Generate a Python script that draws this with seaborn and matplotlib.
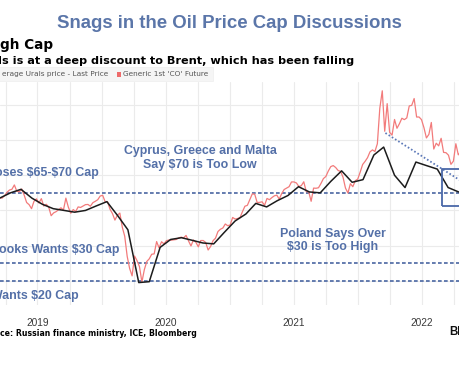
import numpy as np
import pandas as pd
import matplotlib
matplotlib.use("Agg")
import matplotlib.pyplot as plt
import matplotlib.dates as mdates
from matplotlib.patches import Rectangle
import seaborn as sns

# --- data --------------------------------------------------------------
# Brent (Generic 1st 'CO' Future), weekly Friday values
brent_2019 = [65.1, 65.7, 67.2, 67.0, 68.4,          # Mar
              70.3, 71.6, 72.0, 74.5,                # Apr
              70.9, 70.6, 72.2, 68.7, 64.5,          # May
              63.3, 61.0, 65.2, 66.6,                # Jun
              64.2, 66.7, 62.5, 63.5,                # Jul
              61.9, 57.0, 58.6, 59.3, 60.4,          # Aug
              61.5, 60.2, 67.0, 61.9,                # Sep
              58.4, 60.5, 59.4, 62.0,                # Oct
              61.7, 62.5, 63.3, 63.4, 62.4,          # Nov
              64.4, 65.2, 66.1, 68.2]                # Dec
brent_2020 = [68.6, 65.0, 64.9, 60.7, 58.2,
              54.5, 57.3, 58.5, 50.5,
              45.3, 33.9, 27.0, 22.8,
              34.1, 31.5, 28.1, 19.3,
              26.4, 31.0, 32.5, 35.1, 35.3,
              42.3, 38.7, 42.2, 41.0,
              42.8, 43.2, 43.1, 43.3, 43.5,
              44.4, 44.8, 44.4, 45.8,
              42.7, 39.8, 43.2, 41.9,
              39.3, 42.9, 42.9, 41.8, 37.5,
              39.5, 42.8, 44.2, 48.0,
              49.3, 50.0, 52.3, 51.3]
brent_2021 = [51.8, 56.0, 55.1, 55.4, 55.9,
              59.3, 62.4, 62.9, 66.1,
              69.4, 69.2, 64.5, 64.6,
              64.9, 62.9, 66.8, 66.1, 67.3,
              68.3, 68.7, 66.4, 69.6,
              71.9, 72.7, 73.5, 76.2,
              76.2, 75.6, 73.6, 74.1, 76.3,
              70.7, 70.6, 65.2, 72.7,
              72.6, 72.9, 75.3, 78.1,
              79.3, 82.4, 84.9, 85.5, 84.4,
              82.7, 82.2, 78.9, 72.7,
              69.9, 75.2, 73.5, 76.9, 77.8]
brent_2022 = [81.8, 86.1, 87.9, 90.0,
              93.3, 94.4, 93.5, 97.9,
              118.1, 128.0, 105.0, 120.7,
              104.4, 102.8, 111.7, 106.7, 109.3,
              112.4, 111.6, 112.6, 119.4,
              119.7, 123.6, 113.1, 113.1,
              111.6, 107.0, 101.2, 103.2, 110.0,
              94.9, 98.2, 96.7, 101.0,
              93.0, 92.8, 91.4, 86.2, 88.0,
              97.9, 91.6, 93.5]

# Average Urals price, monthly
urals_start = "2019-02"
urals_values = [65, 67, 70, 72, 67, 63.5, 61, 60, 59, 60, 62.5,
                65, 57, 49, 19, 19.5, 39, 43.5, 44.5, 43, 41.5, 41, 47.5,
                54, 58, 64, 62, 65.5, 68.5, 73.5, 70.5, 70, 76.5, 82.5, 76,
                77.5, 91.5, 96, 80, 73, 87.5, 85.5, 83.5, 73, 70.5]

cap_levels = [70, 30, 20]
trend_dates = ["2022-03-20", "2022-10-20"]
trend_values = [104, 77]
box_dates = ["2022-08-29", "2023-01-31"]
box_values = [62.5, 83.5]
year_labels = ["2019", "2020", "2021", "2022"]

# --- frames ------------------------------------------------------------
brent_dates = np.concatenate([
    pd.date_range("2019-03-01", "2019-12-31", freq="W-FRI"),
    pd.date_range("2020-01-01", "2020-12-31", freq="W-FRI"),
    pd.date_range("2021-01-01", "2021-12-31", freq="W-FRI"),
    pd.date_range("2022-01-01", periods=len(brent_2022), freq="W-FRI"),
])
brent = pd.DataFrame({"date": pd.to_datetime(brent_dates),
                      "price": brent_2019 + brent_2020 + brent_2021 + brent_2022})
urals = pd.DataFrame({
    "date": pd.date_range(urals_start, periods=len(urals_values), freq="MS") + pd.Timedelta(days=14),
    "price": urals_values})

# --- figure ------------------------------------------------------------
W, H = 459, 383
sns.set_style("white")
plt.rcParams["font.family"] = ["Liberation Sans", "DejaVu Sans"]

fig = plt.figure(figsize=(W / 100, H / 100), dpi=100)
fig.patch.set_facecolor("white")


def fx(px):
    return px / W


def fy(py):
    return 1 - py / H


ax_top, ax_bot = 82, 305
ax = fig.add_axes([0, fy(ax_bot), 1, (ax_bot - ax_top) / H])
ax.set_facecolor("white")

grid_c = "#ebebeb"
for q in pd.date_range("2019-01-01", "2023-01-01", freq="QS"):
    ax.axvline(q, color=grid_c, lw=0.8, zorder=0)
for v in range(20, 140, 20):
    ax.axhline(v, color=grid_c, lw=0.8, zorder=0)

blue = "#4a66a2"
for lvl in cap_levels:
    ax.axhline(lvl, color=blue, lw=1.2, dashes=(2.2, 1.4), zorder=2)

sns.lineplot(data=brent, x="date", y="price", ax=ax, color="#f27b7b", lw=0.9, zorder=3)
sns.lineplot(data=urals, x="date", y="price", ax=ax, color="#1c1c1c", lw=1.1, zorder=4)

ax.plot(pd.to_datetime(trend_dates), trend_values, color="#5b78b8", lw=1.3,
        dashes=(0.9, 1.2), zorder=5)
bx = mdates.date2num(pd.to_datetime(box_dates))
ax.add_patch(Rectangle((bx[0], box_values[0]), bx[1] - bx[0], box_values[1] - box_values[0],
                       fill=False, edgecolor="#4a68a8", lw=1.3, zorder=6))

ax.set_xlim(pd.Timestamp("2019-03-16"), pd.Timestamp("2022-10-16"))
ax.set_ylim(6.25, 133)
ax.set_xticks([])
ax.set_xticks([pd.Timestamp(f"{y}-07-02") for y in year_labels], minor=True)
ax.set_xticklabels(year_labels, minor=True, fontsize=7.3, color="#3a3a3a")
ax.tick_params(axis="x", which="minor", length=0, pad=9)
ax.set_yticks([])
ax.set_xlabel("")
ax.set_ylabel("")
for s in ax.spines.values():
    s.set_visible(False)
if ax.get_legend():
    ax.get_legend().remove()

# --- header ------------------------------------------------------------
fig.text(fx(229), fy(24), "Snags in the Oil Price Cap Discussions", ha="center", va="center",
         fontsize=13.4, fontweight="bold", color="#5b76a9")
fig.text(fx(53), fy(45), "gh Cap", ha="right", va="center", fontsize=9.8,
         fontweight="bold", color="black", family="DejaVu Sans")
fig.text(fx(354), fy(61), "ls is at a deep discount to Brent, which has been falling",
         ha="right", va="center", fontsize=8.1, fontweight="bold", color="black", family="DejaVu Sans")

fig.patches.append(Rectangle((fx(-5), fy(81)), fx(218), (81 - 67) / H, transform=fig.transFigure,
                             facecolor="#f5f5f5", edgecolor="#eeeeee", lw=0.5, zorder=0))
fig.text(fx(108), fy(74), "erage Urals price - Last Price", ha="right", va="center",
         fontsize=5.3, color="#555555", family="DejaVu Sans")
fig.patches.append(Rectangle((fx(116.5), fy(76.5)), fx(4), 4.5 / H, transform=fig.transFigure,
                             facecolor="#ee6b6b", edgecolor="none"))
fig.text(fx(123), fy(74), "Generic 1st 'CO' Future", ha="left", va="center",
         fontsize=5.3, color="#555555", family="DejaVu Sans")

# --- annotations -------------------------------------------------------
ann = dict(fontsize=8.9, fontweight="bold", color="#5470a8", va="center")
fig.text(fx(200), fy(158), "Cyprus, Greece and Malta\nSay \\$70 is Too Low", ha="center",
         multialignment="center", linespacing=1.15, **ann)
fig.text(fx(99), fy(173), "oses \\$65-\\$70 Cap", ha="right", **ann)
fig.text(fx(119), fy(250.5), "ooks Wants \\$30 Cap", ha="right", **ann)
fig.text(fx(79), fy(296), "Wants \\$20 Cap", ha="right", **ann)
fig.text(fx(333), fy(240.5), "Poland Says Over\n\\$30 is Too High", ha="center",
         multialignment="center", linespacing=1.15, **ann)

# --- footer ------------------------------------------------------------
fig.text(fx(197), fy(333), "ce: Russian finance ministry, ICE, Bloomberg", ha="right", va="center",
         fontsize=5.6, fontweight="bold", color="black", family="DejaVu Sans")
fig.text(fx(449), fy(332), "Bloomberg", ha="left", va="center", fontsize=8.3,
         fontweight="bold", color="#111111")

fig.savefig("out.png", dpi=100)
